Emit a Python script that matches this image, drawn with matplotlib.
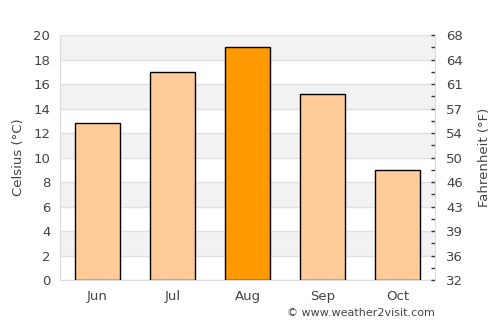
import numpy as np
import matplotlib.pyplot as plt
from matplotlib.ticker import MultipleLocator

months = ['Jun', 'Jul', 'Aug', 'Sep', 'Oct']
celsius = [12.8, 17.0, 19.0, 15.2, 9.0]
highlight = 'Aug'
c_ticks = list(range(0, 21, 2))

txt = '#444444'
fig = plt.figure(figsize=(5, 3.25), dpi=100)
ax = fig.add_axes([0.12, 0.138, 0.75, 0.754])

# alternating background bands
for lo in range(2, 20, 4):
    ax.axhspan(lo, lo + 2, color='#f2f2f2', zorder=0, lw=0)
for y in c_ticks:
    ax.axhline(y, color='#e0e0e0', lw=1, zorder=1)

colors = ['#ff9900' if m == highlight else '#ffcc99' for m in months]
ax.bar(range(len(months)), celsius, width=0.6, color=colors,
       edgecolor='black', linewidth=1, zorder=3)

ax.set_xlim(-0.5, len(months) - 0.5)
ax.set_ylim(0, 20)
ax.set_yticks(c_ticks)
ax.set_xticks(range(len(months)))
ax.set_xticklabels(months)
ax.tick_params(axis='both', length=0, colors=txt, labelsize=9.5, pad=7)
ax.set_ylabel('Celsius (°C)', color=txt, fontsize=9.5, labelpad=6)
for s in ['top', 'right']:
    ax.spines[s].set_visible(False)
for s in ['left', 'bottom']:
    ax.spines[s].set_color('#dddddd')

# Fahrenheit axis on the right
ax2 = ax.twinx()
ax2.set_ylim(0, 20)
ax2.set_yticks(c_ticks)
ax2.set_yticklabels([f'{round(c * 9 / 5 + 32)}' for c in c_ticks])
ax2.yaxis.set_minor_locator(MultipleLocator(1))
ax2.tick_params(axis='y', which='both', direction='in', length=3, width=1,
                color='#333333', labelcolor=txt, labelsize=9.5, pad=8)
ax2.set_ylabel('Fahrenheit (°F)', color=txt, fontsize=9.5, labelpad=11)
for s in ['top', 'left', 'bottom']:
    ax2.spines[s].set_visible(False)
ax2.spines['right'].set_color('#dddddd')

fig.text(0.87, 0.022, '© www.weather2visit.com', ha='right', va='bottom',
         color=txt, fontsize=8)

fig.savefig('out.png', dpi=100)
